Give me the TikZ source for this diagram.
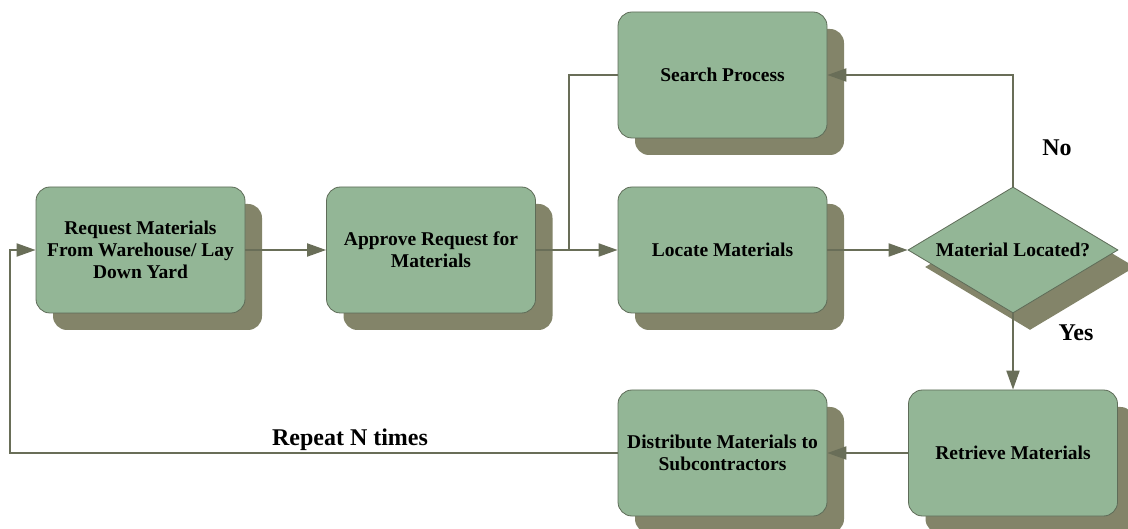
\documentclass[tikz,border=0pt]{standalone}
\usepackage{fontspec}
\setmainfont{Liberation Serif}
\usetikzlibrary{shapes.geometric,shadows,arrows.meta}

\definecolor{boxfill}{RGB}{147,182,150}
\definecolor{boxedge}{RGB}{94,108,88}
\definecolor{shadowfill}{RGB}{131,132,105}
\definecolor{linecol}{RGB}{105,110,88}

\tikzset{
    flowbox/.style={rectangle, rounded corners=14pt, draw=boxedge, fill=boxfill,
        line width=0.8pt, minimum width=209pt, minimum height=126pt,
        align=center, font=\fontsize{19.5}{22}\selectfont\bfseries,
        drop shadow={shadow xshift=17pt, shadow yshift=-17pt,
            fill=shadowfill, opacity=1, draw=none}},
    decision/.style={diamond, draw=boxedge, fill=boxfill, line width=0.8pt,
        inner sep=0pt, minimum width=210pt, minimum height=126pt,
        drop shadow={shadow xshift=17pt, shadow yshift=-17pt,
            fill=shadowfill, opacity=1, draw=none}},
    boxtext/.style={font=\fontsize{19.5}{22}\selectfont\bfseries},
    flow/.style={draw=linecol, line width=2pt,
        -{Triangle[length=19pt,width=13pt]}},
    plainflow/.style={draw=linecol, line width=2pt},
    branch/.style={font=\fontsize{24}{26}\selectfont\bfseries}
}

\begin{document}
\begin{tikzpicture}[x=1pt, y=-1pt]
    \useasboundingbox (0,0) rectangle (1128,529);

    %Kaesten
    \node[flowbox] (req) at (140.5,250)
        {Request Materials\\From Warehouse/ Lay\\Down Yard};
    \node[flowbox] (app) at (431,250) {Approve Request for\\Materials};
    \node[flowbox] (search) at (722.5,75) {Search Process};
    \node[flowbox] (loc) at (722.5,250) {Locate Materials};
    \node[decision] (dec) at (1013,250) {};
    \node[boxtext] (dectext) at (dec) {Material Located?};
    \node[flowbox] (ret) at (1013,453) {Retrieve Materials};
    \node[flowbox] (dist) at (722.5,453) {Distribute Materials to\\Subcontractors};

    %Hilfspunkte
    \coordinate (join) at (569,250);
    \coordinate (back) at (10,453);

    %Pfeile
    \draw[flow] (req) -- (app);
    \draw[flow] (app) -- (loc);
    \draw[plainflow] (search.west) -| (join);
    \draw[flow] (loc) -- (dec);
    \draw[flow] (dec.north) |- (search.east);
    \draw[flow] (dec.south) -- (ret.north);
    \draw[flow] (ret) -- (dist);
    \draw[flow] (dist.west) -- (back) |- (req.west);

    %Beschriftung
    \node[branch] (no) at (1057,148) {No};
    \node[branch] (yes) at (1076,333) {Yes};
    \node[branch] (repeat) at (350,440) {Repeat N times};

\end{tikzpicture}
\end{document}
